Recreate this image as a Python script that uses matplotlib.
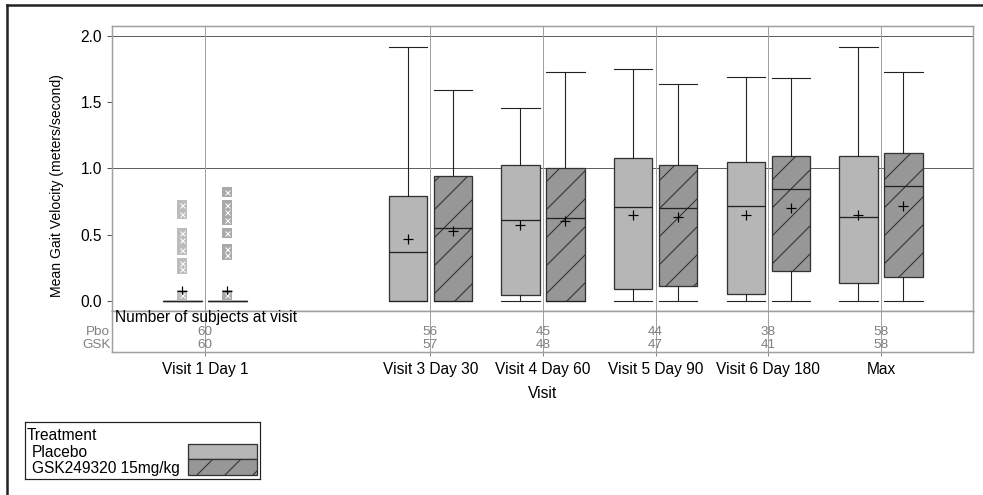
import numpy as np
import matplotlib.pyplot as plt
from matplotlib.patches import Rectangle
from matplotlib.lines import Line2D

DPI = 168
PT = 72 / DPI   # points per pixel, so sizes below can be given in pixels

plt.rcParams['font.family'] = ['Liberation Sans', 'DejaVu Sans']
plt.rcParams['hatch.linewidth'] = 1.1 * PT
plt.rcParams['hatch.color'] = '#222222'

# Datos (visita 2 no tiene datos -> hueco)
visits = ["Visit 1 Day 1", None, "Visit 3 Day 30", "Visit 4 Day 60",
          "Visit 5 Day 90", "Visit 6 Day 180", "Max"]

pbo_whishi = [0.0, 1.92, 1.455, 1.75, 1.69, 1.92]
pbo_q3 = [0.0, 0.795, 1.026, 1.08, 1.047, 1.097]
pbo_med = [0.0, 0.367, 0.61, 0.707, 0.717, 0.631]
pbo_q1 = [0.0, 0.0, 0.045, 0.088, 0.053, 0.133]
pbo_whislo = [0.0, 0.0, 0.0, 0.0, 0.0, 0.0]
pbo_mean = [0.078, 0.465, 0.574, 0.65, 0.65, 0.65]

gsk_whishi = [0.0, 1.59, 1.73, 1.635, 1.68, 1.73]
gsk_q3 = [0.0, 0.94, 1.0, 1.026, 1.097, 1.114]
gsk_med = [0.0, 0.55, 0.63, 0.70, 0.843, 0.868]
gsk_q1 = [0.0, 0.0, 0.0, 0.113, 0.229, 0.184]
gsk_whislo = [0.0, 0.0, 0.0, 0.0, 0.0, 0.0]
gsk_mean = [0.078, 0.53, 0.60, 0.636, 0.70, 0.72]

# valores atipicos (solo visita 1)
pbo_fliers = [[0.725, 0.66, 0.51, 0.46, 0.385, 0.29, 0.245, 0.045], [], [], [], [], []]
gsk_fliers = [[0.825, 0.725, 0.675, 0.61, 0.51, 0.39, 0.35, 0.045], [], [], [], [], []]

pbo_n = [60, 56, 45, 44, 38, 58]
gsk_n = [60, 57, 48, 47, 41, 58]

ref_lines = [1.0, 2.0]

pos = np.array([i for i, v in enumerate(visits) if v is not None], dtype=float)
labels = [v for v in visits if v is not None]

W, H = 983, 495
fig = plt.figure(figsize=(W / DPI, H / DPI), dpi=DPI)

def fx(p):
    return p / W

def fy(p):
    return 1 - p / H

ax = fig.add_axes([fx(112), fy(311), fx(973 - 112), (311 - 26) / H])
cax = fig.add_axes([fx(112), fy(352), fx(973 - 112), (352 - 311) / H], sharex=ax)

fs = 15.5 * PT
fs_n = 13.5 * PT
spine_c = '#a0a0a0'

for a in (ax, cax):
    for s in a.spines.values():
        s.set_color(spine_c)
        s.set_linewidth(1.5 * PT)
    a.set_xticks(pos)
    a.grid(axis='x', color='#a0a0a0', lw=1 * PT)
    a.set_axisbelow(True)

for y in ref_lines:
    ax.axhline(y, color='#606060', lw=1 * PT, zorder=0.5)

def stats(whislo, q1, med, q3, whishi, mean, fliers):
    return [dict(whislo=a, q1=b, med=c, q3=d, whishi=e, mean=f, fliers=g)
            for a, b, c, d, e, f, g in zip(whislo, q1, med, q3, whishi, mean, fliers)]

width = 0.34
off = 0.2
groups = [
    (stats(pbo_whislo, pbo_q1, pbo_med, pbo_q3, pbo_whishi, pbo_mean, pbo_fliers),
     -off, '#b6b6b6', None, '#bcbcbc', pbo_fliers),
    (stats(gsk_whislo, gsk_q1, gsk_med, gsk_q3, gsk_whishi, gsk_mean, gsk_fliers),
     off, '#979797', '//', '#a9a9a9', gsk_fliers),
]
for st, o, fc, hatch, mc, fl in groups:
    ax.bxp(st, positions=pos + o, widths=width, capwidths=width,
           patch_artist=True, showmeans=True, manage_ticks=False,
           boxprops=dict(facecolor=fc, edgecolor='#333333', lw=1.3 * PT, hatch=hatch),
           medianprops=dict(color='#222222', lw=1.3 * PT),
           whiskerprops=dict(color='#222222', lw=1.1 * PT),
           capprops=dict(color='#222222', lw=1.1 * PT),
           meanprops=dict(marker='+', markeredgecolor='black', markersize=10 * PT,
                          markeredgewidth=1.2 * PT),
           flierprops=dict(marker='s', markersize=10 * PT, markerfacecolor=mc,
                           markeredgecolor='none'))
    for p, vals in zip(pos + o, fl):
        if vals:
            ax.plot([p] * len(vals), vals, 'x', color='white', ms=5 * PT,
                    mew=1 * PT, zorder=3)

ax.set_xlim(-0.825, 6.817)
ax.set_ylim(-0.0755, 2.0755)
ax.set_yticks([0.0, 0.5, 1.0, 1.5, 2.0])
ax.set_yticklabels(['0.0', '0.5', '1.0', '1.5', '2.0'])
ax.tick_params(axis='y', labelsize=fs, length=5 * PT, width=1 * PT, color='#555555', pad=5 * PT)
ax.tick_params(axis='x', bottom=False, labelbottom=False)

# tabla de n por visita
cax.set_ylim(0, 1)
cax.set_yticks([])
cax.set_xticklabels(labels)
cax.tick_params(axis='x', labelsize=fs, length=4 * PT, width=1 * PT, color='#888888', pad=6 * PT)
cax.text(0.004, 0.84, 'Number of subjects at visit', transform=cax.transAxes,
         ha='left', va='center', fontsize=fs, color='black')
row_y = [0.50, 0.17]
cax.text(-0.002, row_y[0], 'Pbo', transform=cax.transAxes, ha='right', va='center',
         fontsize=fs_n, color='#808080')
cax.text(-0.002, row_y[1], 'GSK', transform=cax.transAxes, ha='right', va='center',
         fontsize=fs_n, color='#808080')
for p, n1, n2 in zip(pos, pbo_n, gsk_n):
    cax.text(p, row_y[0], str(n1), ha='center', va='center', fontsize=fs_n, color='#808080')
    cax.text(p, row_y[1], str(n2), ha='center', va='center', fontsize=fs_n, color='#808080')

fig.text(fx(542.5), fy(393), 'Visit', ha='center', va='center', fontsize=fs)
fig.text(fx(57), fy(186), 'Mean Gait Velocity (meters/second)', rotation=90,
         ha='center', va='center', fontsize=14 * PT)

# leyenda
lax = fig.add_axes([fx(25), fy(479), fx(260 - 25), (479 - 422) / H])
lax.set_xlim(0, 235)
lax.set_ylim(57, 0)
lax.set_xticks([])
lax.set_yticks([])
for s in lax.spines.values():
    s.set_color('#222222')
    s.set_linewidth(1.2 * PT)
lax.text(2, 13, 'Treatment', ha='left', va='center', fontsize=fs)
lax.text(7, 30, 'Placebo', ha='left', va='center', fontsize=fs)
lax.text(7, 46, 'GSK249320 15mg/kg', ha='left', va='center', fontsize=fs)
lax.add_patch(Rectangle((163, 22), 69, 15, facecolor='#b6b6b6', edgecolor='#333333', lw=1.3 * PT))
lax.add_patch(Rectangle((163, 37), 69, 16, facecolor='#979797', edgecolor='#333333',
                        lw=1.3 * PT, hatch='//'))

# marco exterior
fig.add_artist(Line2D([fx(7), 1], [fy(5.5), fy(5.5)], transform=fig.transFigure,
                      color='#222222', lw=2.5 * PT))
fig.add_artist(Line2D([fx(7), fx(7)], [0, fy(5.5)], transform=fig.transFigure,
                      color='#222222', lw=2.5 * PT))

fig.savefig('out.png', dpi=DPI)
